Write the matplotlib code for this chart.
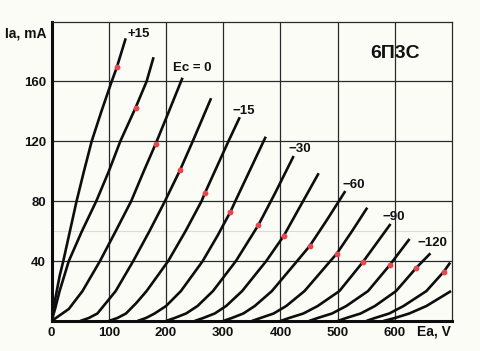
import matplotlib
matplotlib.use('Agg')
import matplotlib.pyplot as plt

plt.rcParams['font.family'] = ['Liberation Sans', 'DejaVu Sans']

# ---- data (Ea in V, Ia in mA) ----
ea_c01 = [0, 4, 9, 14, 20.4, 32, 43.6, 56.5, 70, 87, 105, 114, 129.5]
ia_c01 = [0, 10, 20, 30, 40, 60, 80, 100, 120, 140, 160, 169.5, 188.8]
ea_c02 = [0, 6, 14, 30, 53, 78, 100, 120, 146.8, 166, 178.2]
ia_c02 = [0, 8, 20, 40, 60, 80, 100, 120, 142.5, 160, 176.2]
ea_c03 = [0, 30, 54, 84.5, 112, 139, 161, 181.7, 205, 228.8]
ia_c03 = [0, 8, 20, 40, 60, 80, 100, 118.2, 140, 162.5]
ea_c04 = [50, 65, 80, 95, 112, 142.6, 171, 198, 224.6, 246.6, 278.7]
ia_c04 = [0, 2, 5, 12, 20, 40, 60, 80, 100.9, 120, 148.8]
ea_c05 = [100, 115, 130, 148, 166, 203.7, 234, 262, 267.7, 309, 328.8]
ia_c05 = [0, 2, 5, 12, 20, 40, 60, 80, 85.3, 120, 136.1]
ea_c06 = [150, 165, 180, 200, 226, 264, 290, 312.6, 321, 374.2]
ia_c06 = [0, 2, 5, 10, 20, 40, 57, 73, 80, 123.1]
ea_c07 = [200, 215, 235, 255, 282, 322, 361.4, 390, 423]
ia_c07 = [0, 2, 5, 10, 20, 40, 64.1, 85, 110.2]
ea_c08 = [250, 265, 285, 305, 333, 375, 405.6, 435, 466.7]
ia_c08 = [0, 2, 5, 10, 20, 40, 56.8, 77, 98.7]
ea_c09 = [300, 315, 335, 355, 385, 429, 451, 482, 513.3]
ia_c09 = [0, 2, 5, 10, 20, 40, 50.1, 68, 86.8]
ea_c10 = [350, 365, 388, 410, 442, 487, 498, 525, 551.6]
ia_c10 = [0, 2, 5, 10, 20, 40, 44.8, 60, 75.7]
ea_c11 = [400, 415, 440, 465, 503, 544, 568, 592.3]
ia_c11 = [0, 2, 5, 10, 20, 39.4, 52, 64.8]
ea_c12 = [450, 465, 490, 515, 553, 590.6, 625.5]
ia_c12 = [0, 2, 5, 10, 20, 37.2, 54.8]
ea_c13 = [500, 515, 540, 565, 602, 637, 662]
ia_c13 = [0, 2, 5, 10, 20, 35.4, 45.2]
ea_c14 = [550, 565, 590, 615, 655, 685.3, 696.5]
ia_c14 = [0, 2, 5, 10, 20, 32.9, 39]
ea_c15 = [580, 600, 625, 655, 698]
ia_c15 = [0, 2, 5, 10, 20]

# red points (max dissipation)
dot_ea = [114, 146.8, 181.7, 224.6, 267.7, 312.6, 361.4, 405.6, 451, 498, 544, 590.6, 637, 685.3]
dot_ia = [169.5, 142.5, 118.2, 100.9, 85.3, 73, 64.1, 56.8, 50.1, 44.8, 39.4, 37.2, 35.4, 32.9]

x_ticks = [0, 100, 200, 300, 400, 500, 600]
y_ticks = [40, 80, 120, 160]

curves = [(ea_c01, ia_c01), (ea_c02, ia_c02), (ea_c03, ia_c03), (ea_c04, ia_c04),
          (ea_c05, ia_c05), (ea_c06, ia_c06), (ea_c07, ia_c07), (ea_c08, ia_c08),
          (ea_c09, ia_c09), (ea_c10, ia_c10), (ea_c11, ia_c11), (ea_c12, ia_c12),
          (ea_c13, ia_c13), (ea_c14, ia_c14), (ea_c15, ia_c15)]

fig = plt.figure(figsize=(4.8, 3.51), dpi=100)
fig.patch.set_facecolor('#fcfcf7')
ax = fig.add_axes([0.1075, 0.0855, 0.8345, 0.853])
ax.set_facecolor('#fcfcf7')
ax.set_xlim(0, 700)
ax.set_ylim(0, 200)

for x in x_ticks[1:]:
    ax.axvline(x, color='#2a2a2a', lw=0.9, zorder=1)
for y in y_ticks:
    ax.axhline(y, color='#2a2a2a', lw=0.9, zorder=1)
ax.axhline(60, color='#dcdcd6', lw=0.8, zorder=0.5)

for ea, ia in curves:
    ax.plot(ea, ia, color='#0d0d0d', lw=1.9, solid_capstyle='butt',
            solid_joinstyle='round', zorder=3)

ax.plot(dot_ea, dot_ia, 'o', color='#e6474c', ms=4.2, mew=0, zorder=4)

for side in ['top', 'right']:
    ax.spines[side].set_linewidth(0.9)
    ax.spines[side].set_color('#2a2a2a')
for side in ['left', 'bottom']:
    ax.spines[side].set_linewidth(2.2)
    ax.spines[side].set_color('#0d0d0d')

ax.set_xticks(x_ticks)
ax.set_yticks(y_ticks)
ax.tick_params(length=0, pad=4, labelsize=9.5)
for lab in ax.get_xticklabels() + ax.get_yticklabels():
    lab.set_fontweight('bold')
    lab.set_color('#111111')

bold = dict(fontweight='bold', color='#111111')
fig.text(5 / 480, 1 - 33 / 351, 'Ia, mA', fontsize=10, va='center', ha='left', **bold)
ax.text(669, -7.3, 'Ea, V', fontsize=10, va='center', ha='center', **bold)
ax.text(601, 179, '6П3С', fontsize=14, va='center', ha='center', **bold)

ax.text(133, 192, '+15', fontsize=9.5, va='center', ha='left', **bold)
ax.text(245, 169, 'Ec = 0', fontsize=9.5, va='center', ha='center', **bold)
ax.text(336, 140, '−15', fontsize=9.5, va='center', ha='center', **bold)
ax.text(434, 115, '−30', fontsize=9.5, va='center', ha='center', **bold)
ax.text(528, 91, '−60', fontsize=9.5, va='center', ha='center', **bold)
ax.text(598, 69.5, '−90', fontsize=9.5, va='center', ha='center', **bold)
ax.text(666, 52, '−120', fontsize=9.5, va='center', ha='center', **bold)

fig.savefig('out.png', dpi=100, facecolor=fig.get_facecolor())
